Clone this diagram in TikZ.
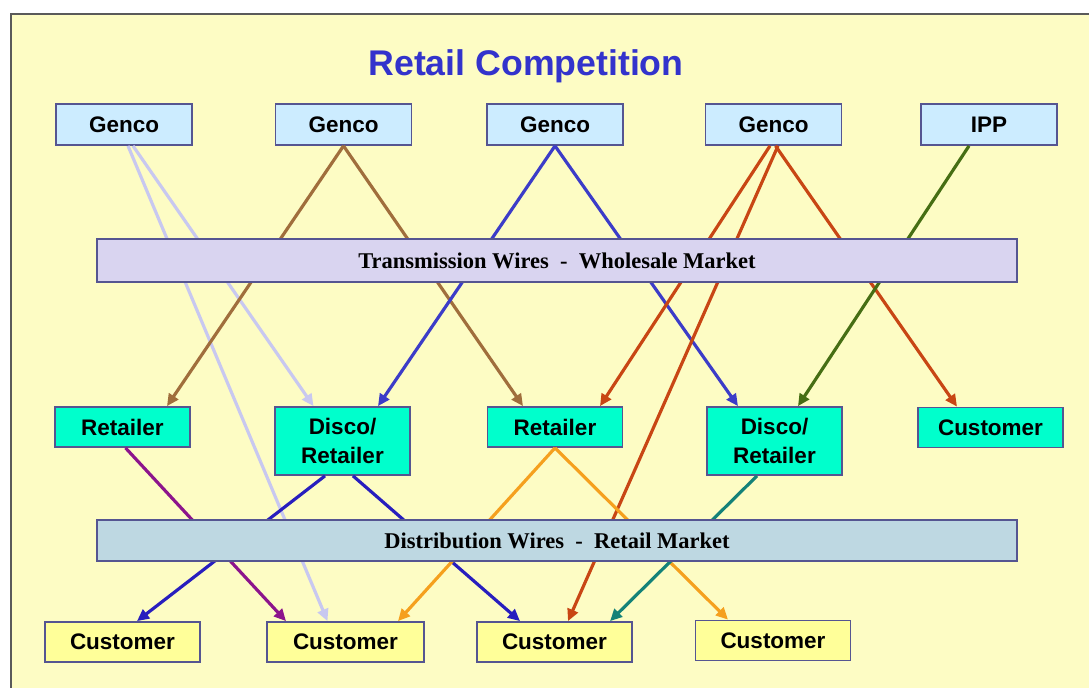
\documentclass[tikz,border=0pt]{standalone}
\usepackage{fontspec}
\setmainfont{Liberation Serif}
\setsansfont{Liberation Sans}
\usetikzlibrary{arrows.meta,calc}

\definecolor{pagebg}{RGB}{253,252,196}
\definecolor{framegray}{RGB}{90,90,90}
\definecolor{boxline}{RGB}{85,85,145}
\definecolor{titleblue}{RGB}{51,51,204}
\definecolor{genfill}{RGB}{204,236,255}
\definecolor{retfill}{RGB}{0,255,204}
\definecolor{custfill}{RGB}{255,255,153}
\definecolor{transfill}{RGB}{217,212,240}
\definecolor{distfill}{RGB}{190,216,226}
\definecolor{lavender}{RGB}{200,200,240}
\definecolor{brownline}{RGB}{160,110,60}
\definecolor{blueline}{RGB}{60,60,200}
\definecolor{redline}{RGB}{200,70,20}
\definecolor{greenline}{RGB}{70,110,20}
\definecolor{purpleline}{RGB}{140,20,140}
\definecolor{navyline}{RGB}{40,30,190}
\definecolor{orangeline}{RGB}{245,160,30}
\definecolor{tealline}{RGB}{20,130,120}

\begin{document}
\begin{tikzpicture}[
  x=0.2mm, y=-0.2mm,
  box/.style={draw=boxline,line width=1pt,inner sep=0pt,align=center,
    minimum height=8mm,font=\sffamily\bfseries\fontsize{12.8}{16.4}\selectfont},
  genbox/.style={box,fill=genfill,minimum width=27.2mm,minimum height=8.2mm},
  retbox/.style={box,fill=retfill,minimum width=27mm},
  discobox/.style={retbox,minimum height=13.6mm},
  custbox/.style={box,fill=custfill,minimum width=31mm},
  wirebar/.style={draw=boxline,line width=1pt,inner sep=0pt,minimum width=184mm,
    font=\bfseries\fontsize{12.8}{15}\selectfont},
  flow/.style={-{Triangle[length=2.4mm,width=2.2mm]},line width=1.8pt}
]
  \useasboundingbox (0,0) rectangle (1089,688);
  \fill[white] (0,0) rectangle (1089,688);
  \draw[framegray,line width=1.1pt,fill=pagebg] (11,14) rectangle (1110,710);

  \node[font=\sffamily\bfseries\fontsize{20.3}{24}\selectfont,text=titleblue] (title) at (526,66) {Retail Competition};

  % generators
  \node[genbox] (gen1) at (124,124.5) {Genco};
  \node[genbox] (gen2) at (343.5,124.5) {Genco};
  \node[genbox] (gen3) at (555,124.5) {Genco};
  \node[genbox] (gen4) at (773.5,124.5) {Genco};
  \node[genbox] (ipp) at (989,124.5) {IPP};

  % retailers and discos
  \node[retbox] (ret1) at (122.5,427) {Retailer};
  \node[discobox] (disco1) at (342.5,441) {Disco/\\Retailer};
  \node[retbox] (ret2) at (555,427) {Retailer};
  \node[discobox] (disco2) at (774.5,441) {Disco/\\Retailer};
  \node[retbox,minimum width=29mm] (bigcust) at (990.5,427.5) {Customer};

  % end customers
  \node[custbox] (cust1) at (122.5,642) {Customer};
  \node[custbox,minimum width=31.4mm] (cust2) at (345.5,642) {Customer};
  \node[custbox] (cust3) at (554.5,642) {Customer};
  \node[custbox] (cust4) at (773,640.5) {Customer};

  \draw[flow,lavender] ($(gen1.south)+(9,0)$) -- ($(disco1.north)+(-29,0)$);
  \draw[flow,lavender] ($(gen1.south)+(4,0)$) -- ($(cust2.north)+(-18,0)$);
  \draw[flow,brownline] (gen2.south) -- ($(ret1.north)+(44.5,0)$);
  \draw[flow,brownline] (gen2.south) -- ($(ret2.north)+(-32,0)$);
  \draw[flow,blueline] (gen3.south) -- ($(disco1.north)+(35.5,0)$);
  \draw[flow,blueline] (gen3.south) -- ($(disco2.north)+(-36.5,0)$);
  \draw[flow,redline] ($(gen4.south)+(-3.5,0)$) -- ($(ret2.north)+(45,0)$);
  \draw[flow,redline] ($(gen4.south)+(4.5,0)$) -- ($(cust3.north)+(13.5,0)$);
  \draw[flow,redline] ($(gen4.south)+(2,0)$) -- ($(bigcust.north)+(-33.5,0)$);
  \draw[flow,greenline] ($(ipp.south)+(-20,0)$) -- ($(disco2.north)+(23.5,0)$);

  \draw[flow,purpleline] ($(ret1.south)+(3,0)$) -- ($(cust2.north)+(-59.5,0)$);
  \draw[flow,navyline] ($(disco1.south)+(-17.5,0)$) -- ($(cust1.north)+(14.5,0)$);
  \draw[flow,navyline] ($(disco1.south)+(10.5,0)$) -- ($(cust3.north)+(-34.5,0)$);
  \draw[flow,orangeline] (ret2.south) -- ($(cust2.north)+(52.5,0)$);
  \draw[flow,orangeline] (ret2.south) -- ($(cust4.north)+(-45,0)$);
  \draw[flow,tealline] ($(disco2.south)+(-17.5,0)$) -- ($(cust3.north)+(55.5,0)$);

  % the two wire layers sit over the lines
  \node[wirebar,fill=transfill,minimum height=8.6mm] (trans) at (557,260.5) {Transmission Wires~~-~~Wholesale Market};
  \node[wirebar,fill=distfill,minimum height=8.2mm] (dist) at (557,540.5) {Distribution Wires~~-~~Retail Market};
\end{tikzpicture}
\end{document}
